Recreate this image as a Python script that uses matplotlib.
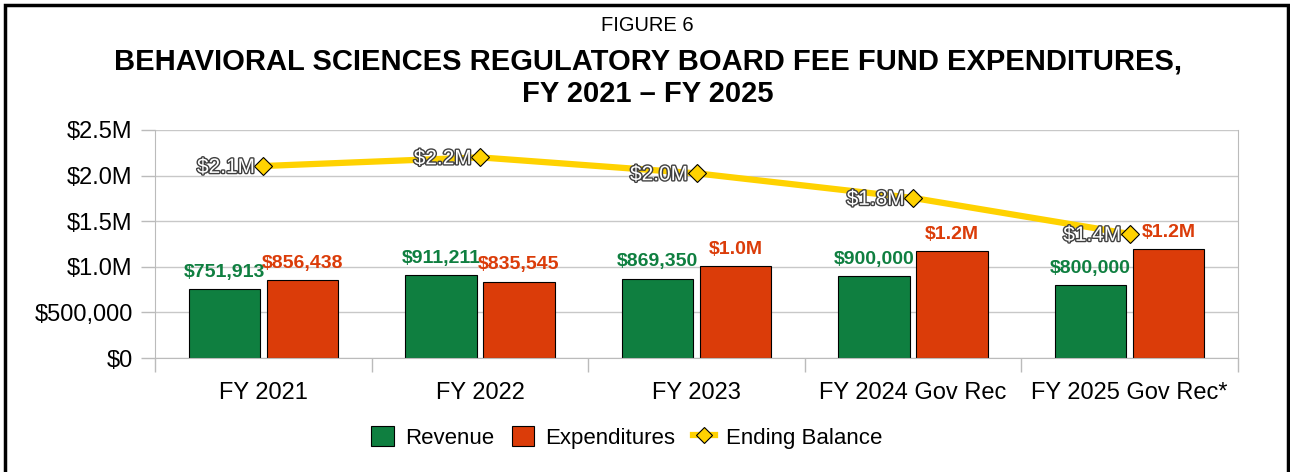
import matplotlib
matplotlib.use("Agg")
import matplotlib.pyplot as plt
import matplotlib.patheffects as pe
from matplotlib.patches import Rectangle
from matplotlib.lines import Line2D
from matplotlib.ticker import FixedLocator, NullFormatter
import numpy as np

# Data.
categories = ["FY 2021", "FY 2022", "FY 2023", "FY 2024 Gov Rec", "FY 2025 Gov Rec*"]
revenue = [751913, 911211, 869350, 900000, 800000]
expenditures = [856438, 835545, 1010000, 1175000, 1195000]
ending_balance = [2105000, 2200000, 2025000, 1755000, 1360000]
y_ticks = [0, 500000, 1000000, 1500000, 2000000, 2500000]
y_tick_labels = ["$0", "$500,000", "$1.0M", "$1.5M", "$2.0M", "$2.5M"]

GREEN = "#0F7F40"
RED = "#DB3C09"
YELLOW = "#FFD200"

plt.rcParams["font.family"] = ["Liberation Sans", "DejaVu Sans"]


def money(v):
    if v >= 1000000:
        return "${:.1f}M".format(v / 1e6)
    return "${:,.0f}".format(v)


fig = plt.figure(figsize=(12.9, 4.72), dpi=100)
ax = fig.add_axes([0.1202, 0.2415, 0.8395, 0.4831])

x = np.arange(len(categories))
w = 0.33
off = 0.18

bars_r = ax.bar(x - off, revenue, w, color=GREEN, edgecolor="black", linewidth=0.8, zorder=2)
bars_e = ax.bar(x + off, expenditures, w, color=RED, edgecolor="black", linewidth=0.8, zorder=2)

# Bar value labels
for bars, vals, col in [(bars_r, revenue, GREEN), (bars_e, expenditures, RED)]:
    for b, v in zip(bars, vals):
        ax.annotate(money(v), (b.get_x() + b.get_width() / 2, v), xytext=(0, 6),
                    textcoords="offset points", ha="center", va="bottom",
                    fontsize=14, fontweight="bold", color=col, zorder=4)

# Ending balance line
ax.plot(x, ending_balance, color=YELLOW, linewidth=4.5, marker="D", markersize=9,
        markerfacecolor=YELLOW, markeredgecolor="black", markeredgewidth=0.8, zorder=3)
for xi, v in zip(x, ending_balance):
    ax.annotate(money(v), (xi, v), xytext=(-6, -1), textcoords="offset points",
                ha="right", va="center", fontsize=15, color="white",
                path_effects=[pe.withStroke(linewidth=2, foreground="#404040")], zorder=5)

ax.set_xlim(-0.5, len(categories) - 0.5)
ax.set_ylim(0, 2500000)
ax.set_yticks(y_ticks)
ax.set_yticklabels(y_tick_labels, fontsize=17)
ax.set_xticks(x)
ax.set_xticklabels(categories, fontsize=17)
ax.xaxis.set_minor_locator(FixedLocator(np.arange(-0.5, len(categories), 1.0)))
ax.xaxis.set_minor_formatter(NullFormatter())
ax.tick_params(axis="x", which="major", length=0, pad=17)
ax.tick_params(axis="x", which="minor", length=10, color="#BBBBBB", width=1)
ax.tick_params(axis="y", length=10, color="#BBBBBB", width=1, pad=6)
ax.grid(axis="y", color="#C8C8C8", linewidth=1, zorder=0)
ax.set_axisbelow(True)
for s in ["left", "bottom", "right"]:
    ax.spines[s].set_color("#BBBBBB")
ax.spines["top"].set_visible(False)

# Titles
fig.text(0.502, 0.947, "FIGURE 6", ha="center", va="center", fontsize=14.5)
fig.text(0.502, 0.870, "BEHAVIORAL SCIENCES REGULATORY BOARD FEE FUND EXPENDITURES,",
         ha="center", va="center", fontsize=21, fontweight="bold")
fig.text(0.502, 0.800, "FY 2021 \u2013 FY 2025", ha="center", va="center",
         fontsize=21, fontweight="bold")

# Legend
handles = [
    Rectangle((0, 0), 1, 1, facecolor=GREEN, edgecolor="black", linewidth=0.8),
    Rectangle((0, 0), 1, 1, facecolor=RED, edgecolor="black", linewidth=0.8),
    Line2D([], [], color=YELLOW, linewidth=4.5, marker="D", markersize=8,
           markerfacecolor=YELLOW, markeredgecolor="black", markeredgewidth=0.8),
]
fig.legend(handles, ["Revenue", "Expenditures", "Ending Balance"], loc="center",
           bbox_to_anchor=(0.486, 0.073), ncol=3, frameon=False, fontsize=16,
           handlelength=1.0, handleheight=1.0, handletextpad=0.5, columnspacing=0.8)

# Figure border
fig.patches.append(Rectangle((5 / 1290, -0.05), 1283 / 1290, 1.05 - 5 / 472,
                             transform=fig.transFigure, fill=False,
                             edgecolor="black", linewidth=2.5))

fig.savefig("out.png", dpi=100)
